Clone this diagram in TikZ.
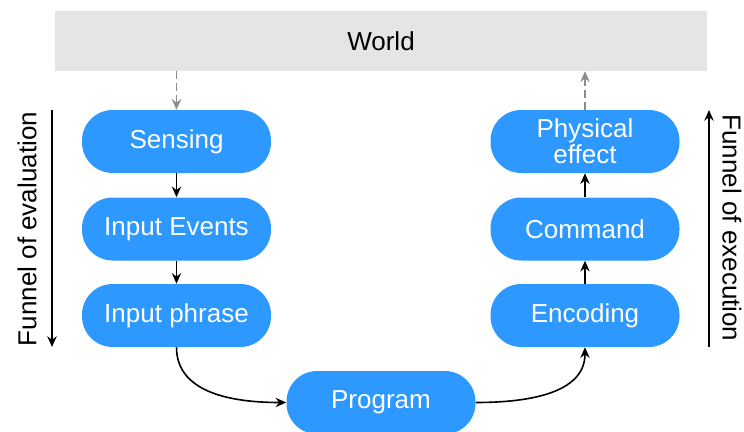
\documentclass[tikz,border=0pt]{standalone}
\usepackage{fontspec}
\setmainfont{Liberation Sans}
\usetikzlibrary{arrows.meta}
\definecolor{boxblue}{RGB}{45,152,255}
\definecolor{worldgray}{RGB}{229,229,229}
\definecolor{dashgray}{RGB}{140,140,140}
\begin{document}
\begin{tikzpicture}[x=0.75pt,y=-0.75pt,
  stepbox/.style={rounded corners=23pt, fill=boxblue, text=white, minimum width=141.75pt, minimum height=47.25pt, inner sep=0pt, font=\fontsize{19.5}{19.5}\selectfont, align=center},
  conn/.style={draw=black, line width=1.2pt, -{Stealth[length=8pt,width=7pt]}},
  dconn/.style={draw=dashgray, line width=1.4pt, dash pattern=on 6pt off 3pt, -{Stealth[length=8pt,width=7pt]}},
  funnel/.style={font=\fontsize{19.5}{22}\selectfont},
  farrow/.style={draw=black, line width=1.2pt, -{Stealth[length=8pt,width=7pt]}}]
\useasboundingbox (0,0) rectangle (744,432);
\node[fill=worldgray, minimum width=489pt, minimum height=45pt, inner sep=0pt, font=\fontsize{19.5}{22}\selectfont] (world) at (381,41) {World};
\node[stepbox] (sensing) at (176.5,141.5) {Sensing};
\node[stepbox] (events) at (176.5,229) {Input Events};
\node[stepbox] (phrase) at (176.5,315.5) {Input phrase};
\node[stepbox] (physical) at (585,141.5) {Physical\\effect};
\node[stepbox] (command) at (585,229) {Command};
\node[stepbox] (encoding) at (585,315.5) {Encoding};
\node[stepbox] (program) at (381,402.5) {Program};
\draw[dconn] (world.south -| sensing.north) -- (sensing.north);
\draw[dconn] (physical.north) -- (world.south -| physical.north);
\draw[conn] (sensing) -- (events);
\draw[conn] (events) -- (phrase);
\draw[conn] (phrase.south) to[out=-90,in=180] (program.west);
\draw[conn] (program.east) to[out=0,in=-90] (encoding.south);
\draw[conn] (encoding) -- (command);
\draw[conn] (command) -- (physical);
\coordinate (le1) at (52,110);
\coordinate (le2) at (52,347);
\draw[farrow] (le1) -- (le2);
\node[funnel, rotate=90] (evaltext) at (27,229) {Funnel of evaluation};
\coordinate (re1) at (709,347);
\coordinate (re2) at (709,110);
\draw[farrow] (re1) -- (re2);
\node[funnel, rotate=-90] (exectext) at (732,228) {Funnel of execution};
\end{tikzpicture}
\end{document}
